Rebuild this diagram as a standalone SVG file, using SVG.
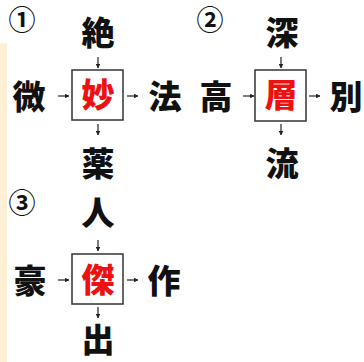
<svg xmlns="http://www.w3.org/2000/svg" width="364" height="362" viewBox="0 0 364 362">
<defs>
<style>
.ch{font-family:"Noto Sans CJK JP","Noto Sans CJK SC",sans-serif;font-weight:900;font-size:33px;text-anchor:middle;fill:#111}
.red{fill:#ee1111}
.num{font-family:"Noto Sans CJK JP",sans-serif;font-weight:700;font-size:27px;text-anchor:middle;fill:#111}
.box{fill:#fff;stroke:#333;stroke-width:1.5}
.ar{stroke:#222;stroke-width:1.2;fill:none;marker-end:url(#ah)}
</style>
<marker id="ah" viewBox="0 0 10 10" refX="9" refY="5" markerWidth="4" markerHeight="4" orient="auto" markerUnits="strokeWidth">
<path d="M0,0 L10,5 L0,10 z" fill="#222"/>
</marker>
</defs>
<rect width="364" height="362" fill="#fff"/>
<rect x="0" y="43" width="7" height="319" fill="#fdf0d5"/>

<g id="puzzle1">
<text class="num" x="22" y="30">①</text>
<rect class="box" x="72" y="70" width="51" height="50"/>
<text class="ch red" x="98" y="107">妙</text>
<text class="ch" x="98" y="45">絶</text>
<text class="ch" x="29" y="109">微</text>
<text class="ch" x="165" y="109">法</text>
<text class="ch" x="98" y="176">薬</text>
</g>

<g id="puzzle2">
<text class="num" x="210" y="30">②</text>
<rect class="box" x="255" y="70" width="51" height="51"/>
<text class="ch red" x="281" y="107">層</text>
<text class="ch" x="282" y="45">深</text>
<text class="ch" x="216" y="109">高</text>
<text class="ch" x="346" y="109">別</text>
<text class="ch" x="282" y="176">流</text>
</g>

<g id="puzzle3">
<text class="num" x="22" y="213">③</text>
<rect class="box" x="72" y="254" width="51" height="50"/>
<text class="ch red" x="98" y="292">傑</text>
<text class="ch" x="98" y="225">人</text>
<text class="ch" x="30" y="293">豪</text>
<text class="ch" x="164" y="293">作</text>
<text class="ch" x="98" y="352">出</text>
</g>

<g id="connectors">
<line class="ar" x1="98" y1="57" x2="98" y2="68"/>
<line class="ar" x1="58" y1="96" x2="69" y2="96"/>
<line class="ar" x1="127" y1="96" x2="138" y2="96"/>
<line class="ar" x1="98" y1="124" x2="98" y2="135"/>

<line class="ar" x1="281" y1="57" x2="281" y2="68"/>
<line class="ar" x1="243" y1="96" x2="254" y2="96"/>
<line class="ar" x1="309" y1="96" x2="320" y2="96"/>
<line class="ar" x1="281" y1="124" x2="281" y2="135"/>

<line class="ar" x1="98" y1="240" x2="98" y2="251"/>
<line class="ar" x1="58" y1="280" x2="69" y2="280"/>
<line class="ar" x1="127" y1="280" x2="138" y2="280"/>
<line class="ar" x1="98" y1="307" x2="98" y2="318"/>
</g>
</svg>
